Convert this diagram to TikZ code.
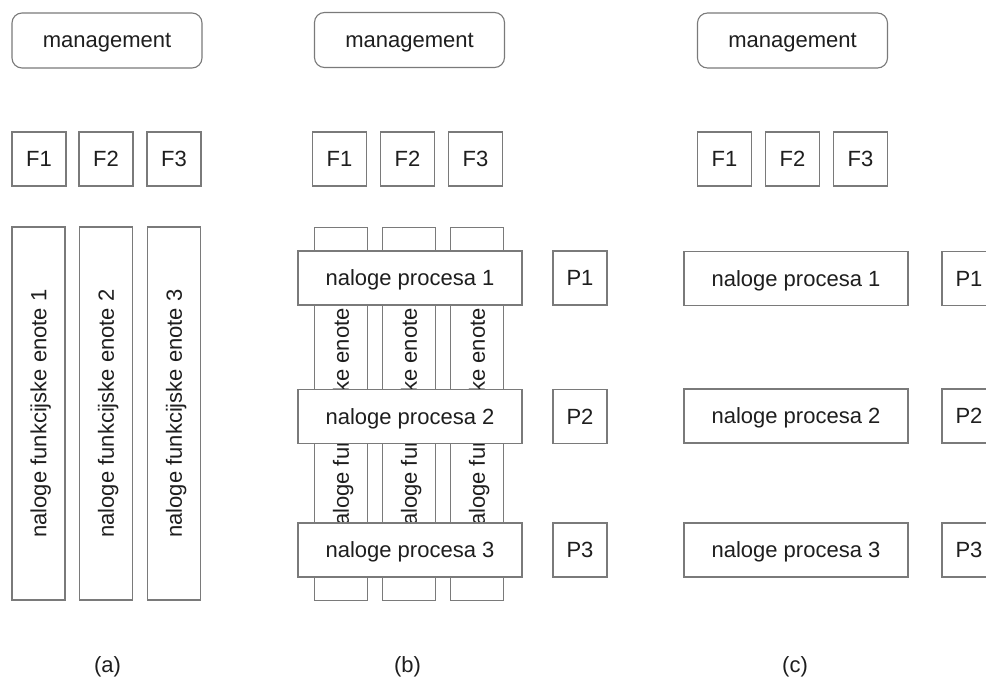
\documentclass[tikz,border=0pt]{standalone}
\usepackage{fontspec}
\setmainfont{Liberation Sans}
\definecolor{edge}{HTML}{7A7A7A}
\definecolor{ink}{HTML}{1E1E1E}
\begin{document}
\begin{tikzpicture}[x=1pt,y=-1pt,
  every node/.style={font=\fontsize{22}{26}\selectfont, text=ink},
  box/.style={draw=edge, line width=1.1pt, fill=white, inner sep=0pt, outer sep=0pt,
              text depth=0pt},
  mgmt/.style={box, rounded corners=10pt, minimum width=190pt, minimum height=55pt},
  fbox/.style={box, minimum width=54pt, minimum height=54pt},
  colbox/.style={box, rotate=90, minimum width=373pt, minimum height=53pt},
  procbox/.style={box, minimum width=224pt, minimum height=54pt},
  caption/.style={inner sep=0pt}]
\useasboundingbox (0,0) rectangle (986,680);

% ---- (a) functional organisation
\node[mgmt] (mgA) at (107,40.5) {management};
\node[fbox] (fA1) at (39,159) {F1};
\node[fbox] (fA2) at (106,159) {F2};
\node[fbox] (fA3) at (174,159) {F3};
\node[colbox] (cA1) at (38.5,413.5) {naloge funkcijske enote 1};
\node[colbox] (cA2) at (106,413.5) {naloge funkcijske enote 2};
\node[colbox] (cA3) at (174,413.5) {naloge funkcijske enote 3};
\node[caption] (capA) at (107.5,667) {(a)};

% ---- (b) matrix: processes across functions
\node[mgmt] (mgB) at (409.5,40) {management};
\node[fbox] (fB1) at (339.5,159) {F1};
\node[fbox] (fB2) at (407.5,159) {F2};
\node[fbox] (fB3) at (475.5,159) {F3};
\node[colbox] (cB1) at (341,414) {naloge funkcijske enote 1};
\node[colbox] (cB2) at (409,414) {naloge funkcijske enote 2};
\node[colbox] (cB3) at (477,414) {naloge funkcijske enote 3};
\node[procbox] (pB1) at (410,278) {naloge procesa 1};
\node[procbox] (pB2) at (410,416.5) {naloge procesa 2};
\node[procbox] (pB3) at (410,550) {naloge procesa 3};
\node[fbox] (qB1) at (580,278) {P1};
\node[fbox] (qB2) at (580,416.5) {P2};
\node[fbox] (qB3) at (580,550) {P3};
\node[caption] (capB) at (407.5,667) {(b)};

% ---- (c) process organisation
\node[mgmt] (mgC) at (792.5,40.5) {management};
\node[fbox] (fC1) at (724.5,159) {F1};
\node[fbox] (fC2) at (792.5,159) {F2};
\node[fbox] (fC3) at (860.5,159) {F3};
\node[procbox] (pC1) at (796,278.5) {naloge procesa 1};
\node[procbox] (pC2) at (796,416) {naloge procesa 2};
\node[procbox] (pC3) at (796,550) {naloge procesa 3};
\node[fbox] (qC1) at (969,278.5) {P1};
\node[fbox] (qC2) at (969,416) {P2};
\node[fbox] (qC3) at (969,550) {P3};
\node[caption] (capC) at (795,667) {(c)};
\end{tikzpicture}
\end{document}
